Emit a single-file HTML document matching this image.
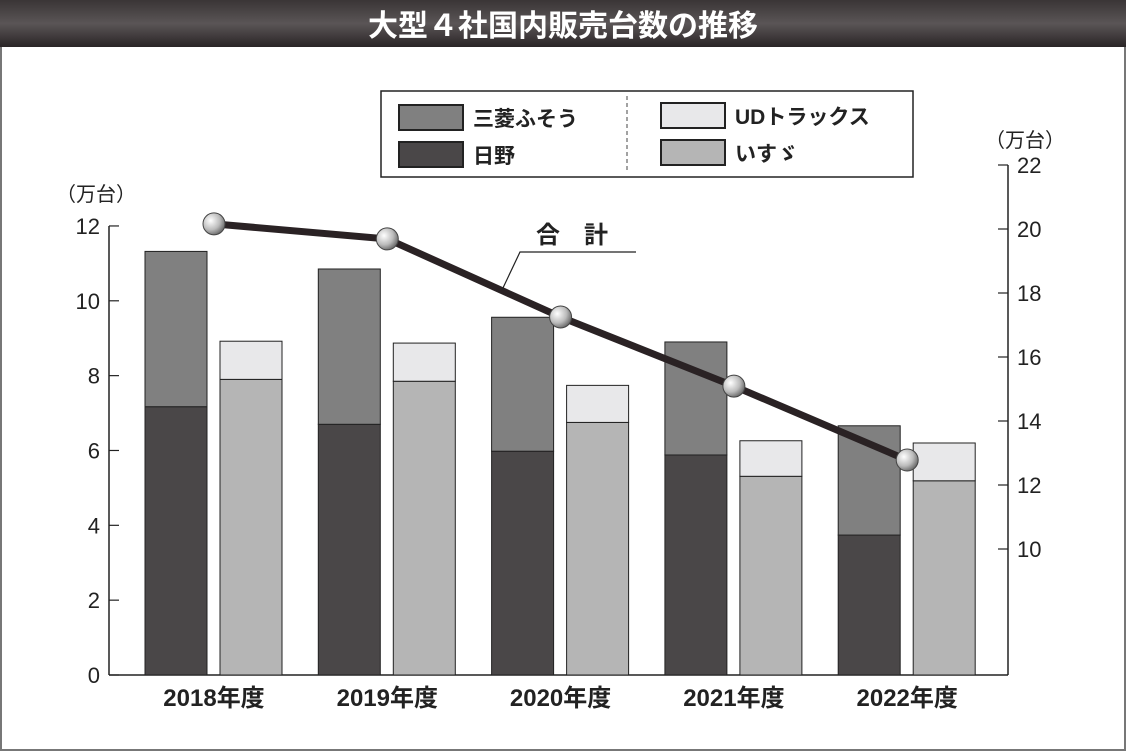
<!DOCTYPE html>
<html><head><meta charset="utf-8"><style>
body{margin:0;width:1126px;height:751px;overflow:hidden;background:#fff;font-family:"Liberation Sans","Noto Sans CJK JP",sans-serif}
</style></head><body>
<svg id="chart" width="1126" height="751" xmlns="http://www.w3.org/2000/svg" font-family="Liberation Sans, Noto Sans CJK JP, sans-serif">
<defs>
<linearGradient id="tg" x1="0" y1="0" x2="0" y2="1"><stop offset="0" stop-color="#3a3536"/><stop offset="0.5" stop-color="#5a5556"/><stop offset="1" stop-color="#2a2526"/></linearGradient>
<radialGradient id="ball" cx="0.35" cy="0.35" r="0.7"><stop offset="0" stop-color="#fff"/><stop offset="0.6" stop-color="#bbb"/><stop offset="1" stop-color="#666"/></radialGradient>
</defs>
<rect x="1" y="1" width="1124" height="749" fill="#fff" stroke="#777" stroke-width="2"/>
<rect x="0" y="0" width="1126" height="47" fill="url(#tg)"/>
<text x="563" y="36" text-anchor="middle" font-size="30" font-weight="bold" fill="#fff">大型４社国内販売台数の推移</text>
<g>
<rect x="381" y="91" width="532" height="86" fill="#fff" stroke="#222" stroke-width="1.5"/>
<line x1="627" y1="96" x2="627" y2="172" stroke="#444" stroke-dasharray="4,3"/>
<rect x="399" y="105" width="64" height="25" fill="#808080" stroke="#222" stroke-width="2"/>
<text x="473" y="126" font-size="21" font-weight="bold" fill="#222">三菱ふそう</text>
<rect x="399" y="142" width="64" height="25" fill="#4a4748" stroke="#222" stroke-width="2"/>
<text x="473" y="163" font-size="21" font-weight="bold" fill="#222">日野</text>
<rect x="661" y="103" width="64" height="25" fill="#e8e8ea" stroke="#222" stroke-width="2"/>
<text x="735" y="124" font-size="21" font-weight="bold" fill="#222">UDトラックス</text>
<rect x="661" y="140" width="64" height="25" fill="#b5b5b5" stroke="#222" stroke-width="2"/>
<text x="735" y="161" font-size="21" font-weight="bold" fill="#222">いすゞ</text>
</g>
<text x="56" y="201" font-size="20" fill="#222">（万台）</text>
<text x="985" y="147" font-size="20" fill="#222">（万台）</text>
<g id="plot"></g>
<g>
<text x="536" y="243" font-size="24" font-weight="bold" fill="#222">合　計</text>
<polyline points="636,252 520,252 502,290" fill="none" stroke="#222" stroke-width="1.2"/>
</g>
</svg>
<script>
const categories=["2018年度","2019年度","2020年度","2021年度","2022年度"];
const hino=[7.17,6.70,5.98,5.88,3.74];
const mitsubishi=[4.15,4.15,3.58,3.02,2.92];
const isuzu=[7.90,7.85,6.75,5.31,5.19];
const ud=[1.02,1.02,0.99,0.95,1.01];
const total=[20.16,19.69,17.25,15.09,12.78];
const leftTicks=[0,2,4,6,8,10,12];
const rightTicks=[10,12,14,16,18,20,22];
const NS="http://www.w3.org/2000/svg";
const g=document.getElementById('plot');
const yL=v=>675-v*37.42;
const yR=v=>549-(v-10)*32;
const xC=i=>214+173.3*i;
function mk(tag,attrs){const e=document.createElementNS(NS,tag);for(const k in attrs)e.setAttribute(k,attrs[k]);g.appendChild(e);return e;}
// axes
let a=mk('line',{x1:109,y1:226,x2:109,y2:675,stroke:'#222','stroke-width':1.5});


a=mk('line',{x1:109,y1:675,x2:1008,y2:675,stroke:'#222','stroke-width':1.5});


a=mk('line',{x1:1008,y1:165,x2:1008,y2:675,stroke:'#222','stroke-width':1.5});


leftTicks.forEach(t=>{
  const y=yL(t);
  mk('line',{x1:109,y1:y,x2:119,y2:y,stroke:'#222','stroke-width':1.2});
  const tx=mk('text',{x:100,y:y+8,'text-anchor':'end','font-size':22,fill:'#222'});
  tx.textContent=t;
  
  
});
rightTicks.forEach(t=>{
  const y=yR(t);
  mk('line',{x1:998,y1:y,x2:1008,y2:y,stroke:'#222','stroke-width':1.2});
  const tx=mk('text',{x:1017,y:y+8,'font-size':22,fill:'#222'});
  tx.textContent=t;
  
  
});
categories.forEach((c,i)=>{
  const cx=xC(i);
  const b1=cx-69,b2=cx+6,w=62;
  let r=mk('rect',{x:b1,y:yL(hino[i]),width:w,height:yL(0)-yL(hino[i]),fill:'#4a4748',stroke:'#222','stroke-width':1});
  
  
  r=mk('rect',{x:b1,y:yL(hino[i]+mitsubishi[i]),width:w,height:yL(hino[i])-yL(hino[i]+mitsubishi[i]),fill:'#808080',stroke:'#222','stroke-width':1});
  
  
  r=mk('rect',{x:b2,y:yL(isuzu[i]),width:w,height:yL(0)-yL(isuzu[i]),fill:'#b5b5b5',stroke:'#222','stroke-width':1});
  
  
  r=mk('rect',{x:b2,y:yL(isuzu[i]+ud[i]),width:w,height:yL(isuzu[i])-yL(isuzu[i]+ud[i]),fill:'#e8e8ea',stroke:'#222','stroke-width':1});
  
  
  const t=mk('text',{x:cx,y:706,'text-anchor':'middle','font-size':24,'font-weight':'bold',fill:'#222'});
  t.textContent=c;
  
  
});
const pl=mk('polyline',{points:total.map((v,i)=>xC(i)+','+yR(v)).join(' '),fill:'none',stroke:'#2a2224','stroke-width':7});


total.forEach((v,i)=>{
  const c=mk('circle',{cx:xC(i),cy:yR(v),r:11,fill:'url(#ball)',stroke:'#444','stroke-width':1});
  
  
});
</script>
</body></html>
